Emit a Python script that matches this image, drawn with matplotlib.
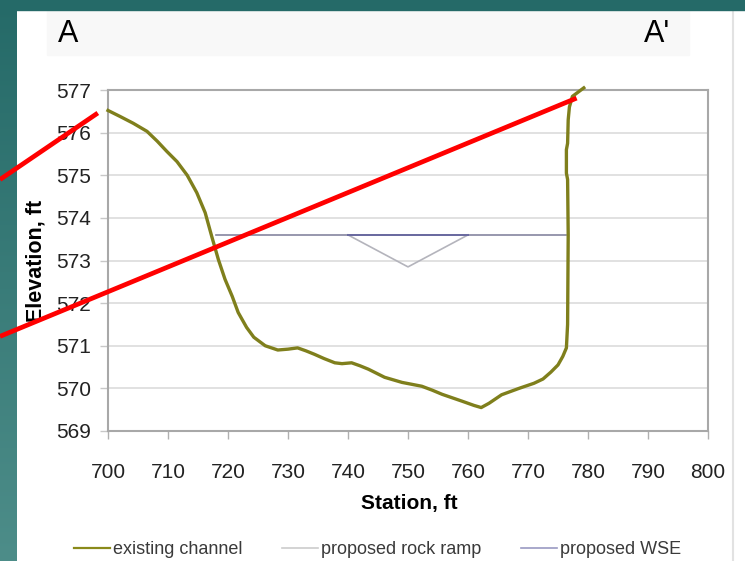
import numpy as np
import matplotlib
matplotlib.use('Agg')
import matplotlib.pyplot as plt
from matplotlib.lines import Line2D
from matplotlib.patches import Rectangle
from matplotlib.colors import LinearSegmentedColormap

plt.rcParams['font.family'] = ['Liberation Sans', 'DejaVu Sans']

# existing channel profile (station, elevation)
channel_x = [700, 702, 704.2, 706.5, 708.2, 709.8, 711.5, 713.2, 714.8, 716.2, 717.3, 718.4,
             719.5, 720.7, 721.7, 723.1, 724.3, 726.2, 728.3, 730, 731.6, 733, 734.4, 736,
             737.8, 739, 740.6, 742, 743.4, 746.1, 749, 752.3, 754, 755.7, 759, 761, 762.2,
             763.5, 765.6, 768.5, 771, 772.5, 773.8, 775, 775.8, 776.4, 776.6, 776.7, 776.6,
             776.4, 776.4, 776.6, 776.7, 776.9, 777.4, 779.3]
channel_y = [576.52, 576.38, 576.22, 576.03, 575.8, 575.56, 575.32, 575.0, 574.59, 574.12, 573.56, 573.02,
             572.56, 572.16, 571.78, 571.43, 571.2, 571.0, 570.9, 570.92, 570.95, 570.88, 570.8, 570.7,
             570.6, 570.58, 570.6, 570.53, 570.45, 570.26, 570.14, 570.05, 569.96, 569.86, 569.7, 569.6, 569.55,
             569.65, 569.85, 570.0, 570.12, 570.22, 570.38, 570.55, 570.75, 570.95, 571.5, 573.6, 574.9,
             575.05, 575.6, 575.75, 576.3, 576.6, 576.85, 577.05]

# proposed rock ramp (V shape)
ramp_x = [740, 750, 760]
ramp_y = [573.6, 572.85, 573.6]

# proposed water surface elevation
wse_x = [718, 776.3]
wse_y = [573.6, 573.6]

# red annotation lines drawn over the slide
red1_x = [682.0, 698.3]
red1_y = [574.9, 576.46]
red2_x = [682.0, 778.1]
red2_y = [571.22, 576.81]

xticks = list(range(700, 801, 10))
yticks = list(range(569, 578))

fig = plt.figure(figsize=(7.45, 5.61), dpi=100)
fig.patch.set_facecolor('white')

# slide decoration: teal border on the left and top
band = fig.add_axes([0, 0, 17 / 745, 1])
grad = np.linspace(0, 1, 256).reshape(-1, 1)
teal = LinearSegmentedColormap.from_list('teal', ['#256a68', '#4d8d89'])
band.imshow(grad, aspect='auto', cmap=teal, extent=[0, 1, 0, 1], origin='upper')
band.axis('off')
fig.patches.append(Rectangle((0, 1 - 10 / 561), 1, 10 / 561, transform=fig.transFigure,
                             color='#256a68', zorder=5))
fig.patches.append(Rectangle((47 / 745, 1 - 55 / 561), 642 / 745, 45 / 561, transform=fig.transFigure,
                             color='#f8f8f8', zorder=0))
fig.lines.append(Line2D([733 / 745, 733 / 745], [0, 1 - 10 / 561], transform=fig.transFigure,
                        color='#e2e2e2', lw=1.5))

fig.text(68 / 745, 1 - 34 / 561, 'A', fontsize=22, ha='center', va='center', color='black')
fig.text(657 / 745, 1 - 34 / 561, "A'", fontsize=22, ha='center', va='center', color='black')

ax = fig.add_axes([108 / 745, 1 - 431 / 561, 600 / 745, 341 / 561])
ax.set_xlim(700, 800)
ax.set_ylim(569, 577)
ax.set_xticks(xticks)
ax.set_yticks(yticks)
ax.grid(axis='y', color='#dcdcdc', lw=1.2)
ax.set_axisbelow(True)
for s in ax.spines.values():
    s.set_color('#a8a8a8')
    s.set_linewidth(1.5)
ax.tick_params(axis='x', length=6, width=1, color='#b0b0b0', pad=17, labelsize=15, labelcolor='#222222')
ax.tick_params(axis='y', length=6, width=1, color='#c8c8c8', pad=6, labelsize=15, labelcolor='#222222')

ax.plot(channel_x, channel_y, color='#7f7f1c', lw=2.4, clip_on=False, zorder=3,
        solid_joinstyle='round')
ax.plot(ramp_x, ramp_y, color='#b4b4bc', lw=1.2, zorder=2)
ax.plot(wse_x, wse_y, color='#85859f', lw=1.2, zorder=2)
ax.plot([740, 760], [573.6, 573.6], color='#6a6aa0', lw=1.4, zorder=2)

ax.plot(red1_x, red1_y, color='#ff0000', lw=3.4, clip_on=False, zorder=6, solid_capstyle='butt')
ax.plot(red2_x, red2_y, color='#ff0000', lw=3.4, clip_on=False, zorder=6, solid_capstyle='butt')

ax.set_xlabel('Station, ft', fontsize=15, fontweight='bold')
ax.xaxis.set_label_coords(0.503, -0.185)
ax.set_ylabel('Elevation, ft', fontsize=15.5, fontweight='bold', va='center')
ax.yaxis.set_label_coords(-0.12, 0.5)

leg_handles = [Line2D([], [], color='#8a8a1a', lw=1.6),
               Line2D([], [], color='#cccccc', lw=1.2),
               Line2D([], [], color='#9a9ac2', lw=1.2)]
fig.legend(leg_handles, ['existing channel', 'proposed rock ramp', 'proposed WSE'],
           loc='center left', bbox_to_anchor=(58 / 745, 1 - 550 / 561), ncol=3, frameon=False,
           fontsize=13, handlelength=2.0, handletextpad=0.15, columnspacing=2.2,
           labelcolor='#3a3a3a')

fig.savefig('out.png', dpi=100)
